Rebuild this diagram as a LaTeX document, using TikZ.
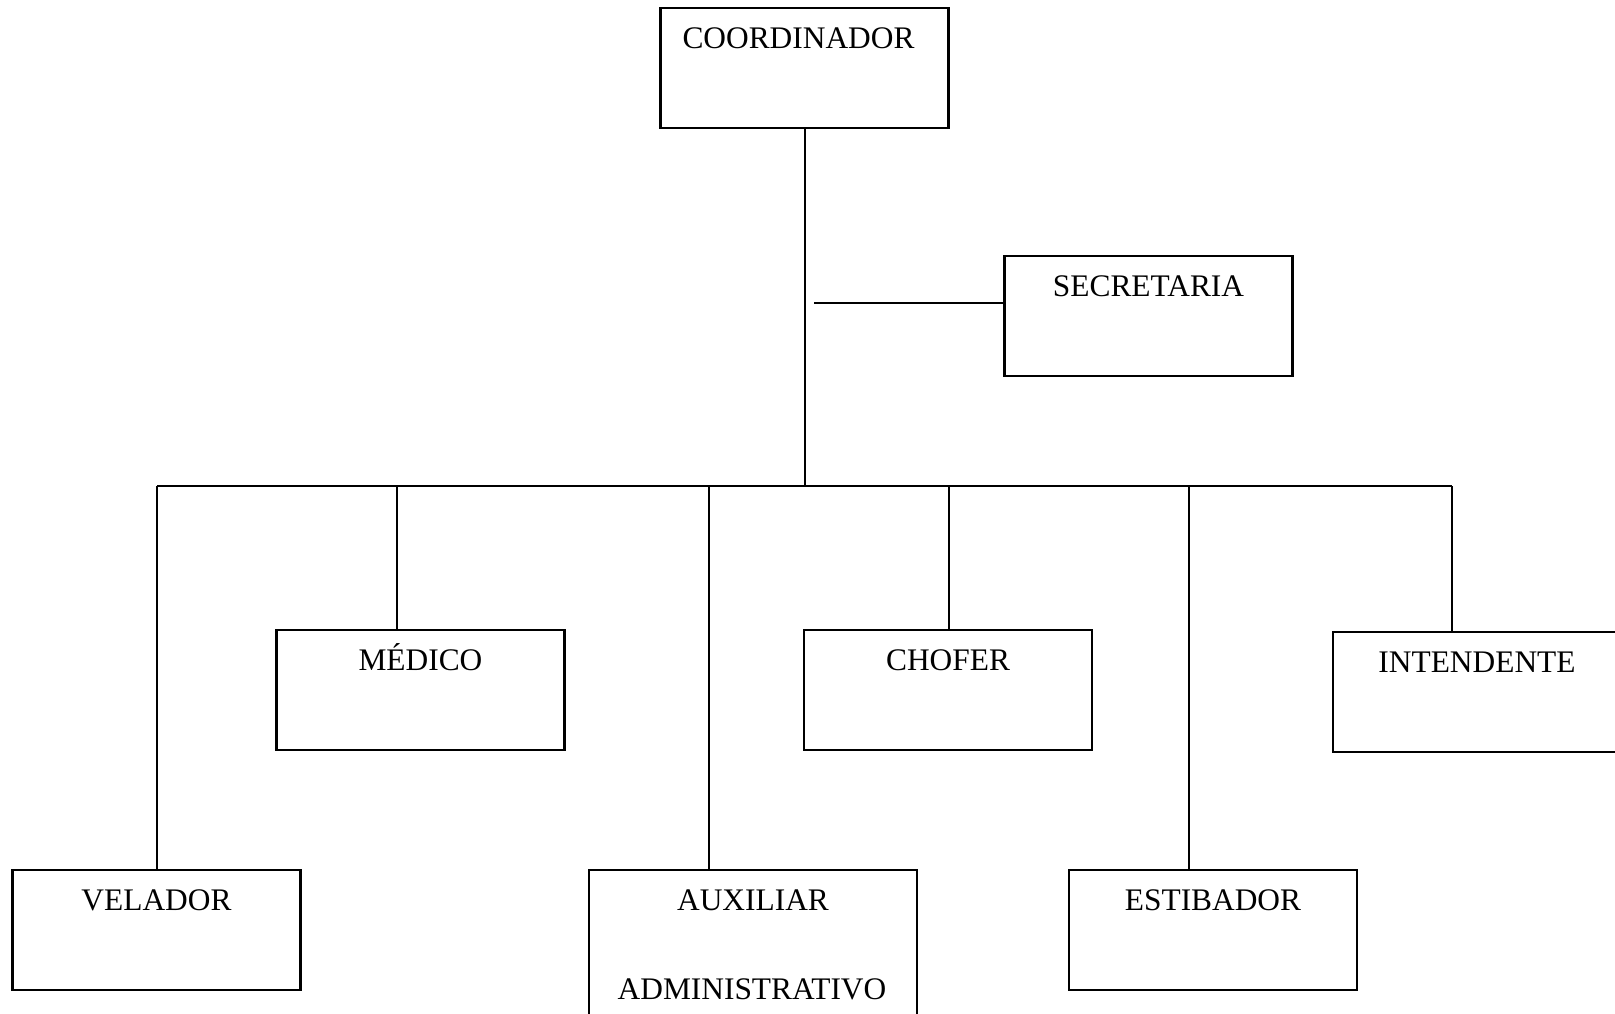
\documentclass[tikz,border=0pt]{standalone}
\usepackage{fontspec}
\setmainfont{Liberation Serif}
\begin{document}
\begin{tikzpicture}[x=0.5pt,y=-0.5pt,
  labelfont/.style={font=\fontsize{15.7}{19}\selectfont},
  post/.style={draw, line width=1.1pt, inner sep=0pt, minimum width=144pt,
    text height=20pt, text depth=40pt, anchor=north, labelfont},
  link/.style={line width=1pt}]
\useasboundingbox (0,0) rectangle (1615,1013);

% positions
\node[post] (coord) at (804.5,7) {COORDINADOR\kern6pt};
\node[post] (sec) at (1148.5,255) {SECRETARIA};
\node[post] (med) at (420.5,629) {MÉDICO};
\node[post] (chof) at (948,629) {CHOFER};
\node[post] (inte) at (1477,631) {INTENDENTE};
\node[post] (vel) at (156.5,869) {VELADOR};
\node[post, minimum width=164pt, text depth=56pt] (aux) at (753,869) {AUXILIAR};
\node[labelfont, anchor=base, inner sep=0pt] (auxb) at (752,999) {ADMINISTRATIVO};
\node[post] (est) at (1213,869) {ESTIBADOR};

% main trunk and secretary branch
\coordinate (hub) at (805,486);
\draw[link] (hub |- coord.south) -- (hub);
\coordinate (stub) at (814,303);
\draw[link] (stub) -- (stub -| sec.west);

% horizontal bus
\coordinate (busL) at (157,486);
\coordinate (busR) at (1452,486);
\draw[link] (busL) -- (busR);

% drops to the staff boxes
\coordinate (dvel) at (157,486);
\coordinate (dmed) at (397,486);
\coordinate (daux) at (709,486);
\coordinate (dchof) at (949,486);
\coordinate (dest) at (1189,486);
\coordinate (dinte) at (1452,486);
\draw[link] (dvel) -- (dvel |- vel.north);
\draw[link] (dmed) -- (dmed |- med.north);
\draw[link] (daux) -- (daux |- aux.north);
\draw[link] (dchof) -- (dchof |- chof.north);
\draw[link] (dest) -- (dest |- est.north);
\draw[link] (dinte) -- (dinte |- inte.north);
\end{tikzpicture}
\end{document}
